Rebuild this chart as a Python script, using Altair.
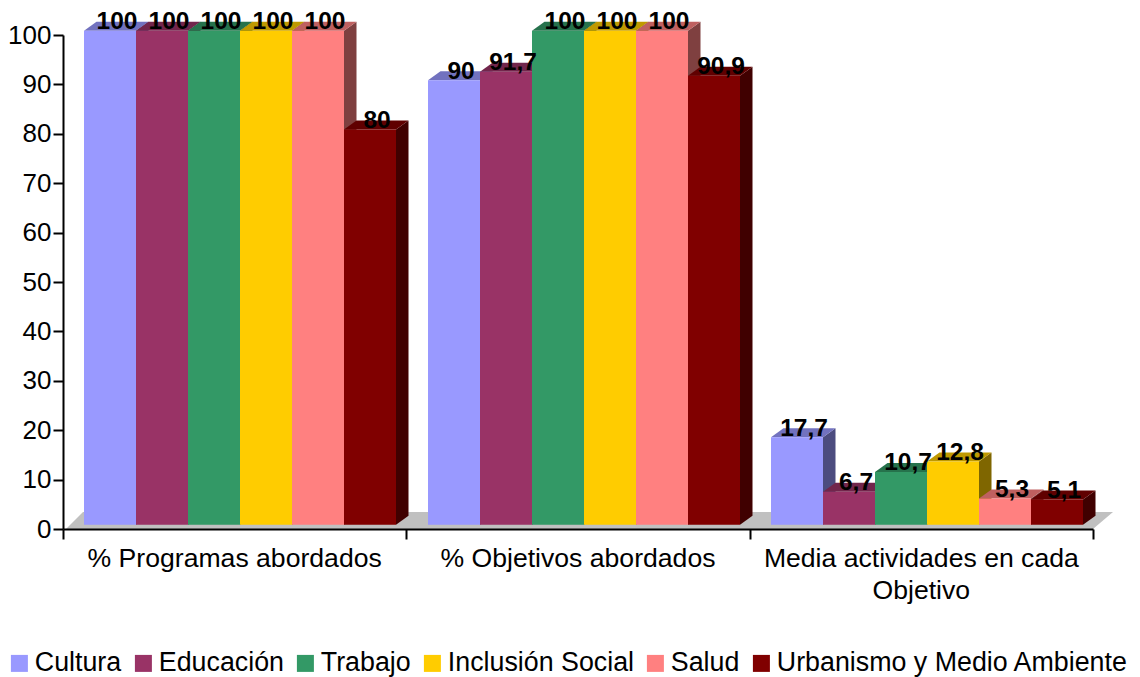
import altair as alt
import pandas as pd

categories = ["% Programas abordados", "% Objetivos abordados", "Media actividades en cada\nObjetivo"]
series = ["Cultura", "Educación", "Trabajo", "Inclusión Social", "Salud", "Urbanismo y Medio Ambiente"]
colors = ["#9999FF", "#993366", "#339966", "#FFCC00", "#FF8080", "#800000"]
cultura = [100, 90, 17.7]
educacion = [100, 91.7, 6.7]
trabajo = [100, 100, 10.7]
inclusion = [100, 100, 12.8]
salud = [100, 100, 5.3]
urbanismo = [80, 90.9, 5.1]
values = [cultura, educacion, trabajo, inclusion, salud, urbanismo]

W, H = 1030, 494
PX = 3 / W           # x data units per pixel
PY = 100 / H         # y data units per pixel
bar_w = 52 * PX
start = [21 * PX, 365 * PX, 708 * PX]
lift = 4.2 * PY
dx = 12.5 * PX
dy = 9 * PY
floor_dx = 20 * PX
floor_dy = 17 * PY


def shade(hex_color, k):
    r, g, b = (int(hex_color[i:i + 2], 16) for i in (1, 3, 5))
    return "#%02X%02X%02X" % (int(r * k), int(g * k), int(b * k))


fronts, faces, labels = [], [], []
for s, (name, col, vals) in enumerate(zip(series, colors, values)):
    for c, v in enumerate(vals):
        x0 = start[c] + s * bar_w
        x1 = x0 + bar_w
        top = v + lift
        fronts.append({"series": name, "x": x0, "x2": x1, "y": top, "y2": lift})
        side_id = f"{s}-{c}-side"
        faces.append({"id": side_id, "fill": shade(col, 0.5), "x": x1, "y": top, "y2": lift})
        faces.append({"id": side_id, "fill": shade(col, 0.5), "x": x1 + dx, "y": top + dy, "y2": lift + dy})
        top_id = f"{s}-{c}-top"
        top_col = shade(col, 0.75)
        faces.append({"id": top_id, "fill": top_col, "x": x0, "y": top, "y2": top})
        faces.append({"id": top_id, "fill": top_col, "x": x0 + dx, "y": top + dy, "y2": top})
        faces.append({"id": top_id, "fill": top_col, "x": x1, "y": top + dy, "y2": top})
        faces.append({"id": top_id, "fill": top_col, "x": x1 + dx, "y": top + dy, "y2": top + dy})
        labels.append({"x": (x0 + x1) / 2 + 7 * PX, "y": top, "text": f"{v:g}".replace(".", ",")})

floor = pd.DataFrame([
    {"x": 0 + 3 * PX, "y": 0, "y2": 0},
    {"x": 3 * PX + floor_dy / PY * PX, "y": floor_dy, "y2": 0},
    {"x": 3, "y": floor_dy, "y2": 0},
    {"x": 3 + floor_dx, "y": floor_dy, "y2": floor_dy},
])
cat_df = pd.DataFrame({"x": [i + 0.5 for i in range(3)], "label": categories})

FONT = "Liberation Sans"
x_scale = alt.Scale(domain=[0, 3], nice=False, zero=False)
y_scale = alt.Scale(domain=[0, 100], nice=False)

floor_layer = alt.Chart(floor).mark_area(color="#C0C0C0").encode(
    x=alt.X("x:Q", scale=x_scale, axis=alt.Axis(
        values=[0, 1, 2, 3], labels=False, title=None, grid=False, tickSize=10, tickWidth=2,
        domainWidth=2, domainColor="black", tickColor="black", zindex=1)),
    y=alt.Y("y:Q", scale=y_scale, stack=None, axis=alt.Axis(
        values=list(range(0, 101, 10)), title=None, grid=False, tickSize=10, tickWidth=2,
        domainWidth=2, domainColor="black", tickColor="black", labelFont=FONT, labelFontSize=26,
        labelColor="black", labelPadding=2, zindex=1)),
    y2="y2:Q",
)

face_layer = alt.Chart(pd.DataFrame(faces)).mark_area(interpolate="linear").encode(
    x=alt.X("x:Q", scale=x_scale),
    y=alt.Y("y:Q", scale=y_scale, stack=None),
    y2="y2:Q",
    color=alt.Color("fill:N", scale=None, legend=None),
    detail="id:N",
)

front_layer = alt.Chart(pd.DataFrame(fronts)).mark_rect().encode(
    x=alt.X("x:Q", scale=x_scale),
    x2="x2:Q",
    y=alt.Y("y:Q", scale=y_scale),
    y2="y2:Q",
    color=alt.Color("series:N", scale=alt.Scale(domain=series, range=colors), legend=alt.Legend(
        title=None, orient="none", legendX=-57, legendY=615, direction="horizontal", columns=6,
        gridAlign="none", symbolType="square", symbolSize=289, symbolStrokeWidth=0,
        labelFont=FONT, labelFontSize=26.8, labelColor="black", labelOffset=2, columnPadding=8,
        labelLimit=500)),
)

label_layer = alt.Chart(pd.DataFrame(labels)).mark_text(
    font=FONT, fontSize=24.5, fontWeight="bold", color="black", baseline="alphabetic", align="center", dy=-1.5
).encode(
    x=alt.X("x:Q", scale=x_scale),
    y=alt.Y("y:Q", scale=y_scale),
    text="text:N",
)

cat_layer = alt.Chart(cat_df).mark_text(
    font=FONT, fontSize=26.6, color="black", baseline="alphabetic", align="center",
    lineBreak="\n", lineHeight=32
).encode(
    x=alt.X("x:Q", scale=x_scale),
    y=alt.value(H + 38),
    text="label:N",
)

chart = alt.layer(floor_layer, face_layer, front_layer, label_layer, cat_layer).resolve_scale(
    color="independent"
).properties(
    width=W, height=H, autosize=alt.AutoSizeParams(type="none"),
    padding={"left": 55, "top": 27, "right": 39, "bottom": 150},
).configure_view(stroke=None)

chart.save("out.html", embed_options={"renderer": "svg", "actions": False})
